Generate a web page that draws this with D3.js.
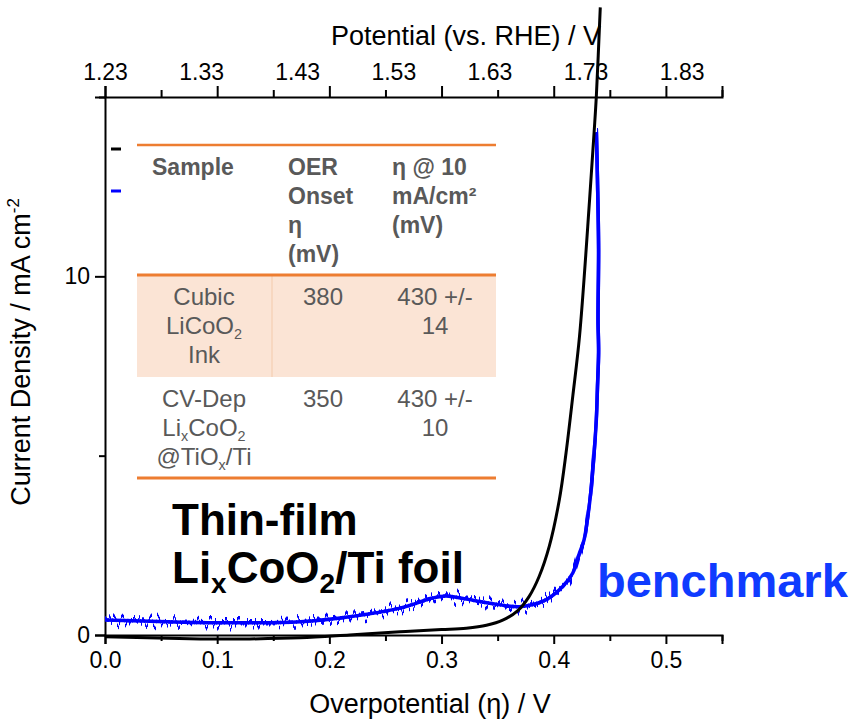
<!DOCTYPE html>
<html>
<head>
<meta charset="utf-8">
<script src="https://cdn.jsdelivr.net/npm/d3@7"></script>
<style>
  body { margin: 0; background: #fff; }
  svg { display: block; font-family: "Liberation Sans", Arial, sans-serif; }
  .tick-label { font-family: "Liberation Sans Narrow", "Arial Narrow", "Liberation Sans", sans-serif; font-size: 23px; fill: #000; }
  .axis-title { font-size: 27px; fill: #000; }
  .th { font-size: 23px; font-weight: bold; fill: #595959; }
  .td { font-size: 24px; fill: #595959; }
</style>
</head>
<body>
<div id="viz_container"></div>
<script>
// data
const blackEta = [0, 0.085, 0.129, 0.174, 0.218, 0.263, 0.300, 0.322, 0.340, 0.355, 0.368, 0.378, 0.387, 0.396, 0.405, 0.411, 0.417, 0.423, 0.432, 0.436, 0.438, 0.4415];
const blackJ   = [-0.05, -0.11, -0.11, -0.08, 0.0, 0.09, 0.15, 0.19, 0.27, 0.42, 0.68, 1.07, 1.63, 2.47, 3.77, 5.08, 6.66, 8.33, 12.15, 14.02, 15.03, 17.5];

const blueEta = [0, 0.055, 0.114, 0.174, 0.218, 0.263, 0.292, 0.304, 0.322, 0.352, 0.370, 0.393, 0.408, 0.417, 0.423, 0.427, 0.430, 0.433, 0.436, 0.438, 0.439, 0.440, 0.4395, 0.440, 0.439, 0.438];
const blueJ   = [0.42, 0.37, 0.34, 0.37, 0.51, 0.75, 1.03, 1.09, 1.00, 0.84, 0.79, 0.98, 1.35, 1.73, 2.29, 2.65, 3.21, 3.97, 5.08, 6.01, 6.93, 7.88, 8.80, 10.75, 12.7, 14.02];

const bottomTicks = [0, 0.1, 0.2, 0.3, 0.4, 0.5];
const minorTicks = [0.05, 0.15, 0.25, 0.35, 0.45, 0.55];
const topLabels = [1.23, 1.33, 1.43, 1.53, 1.63, 1.73, 1.83];
const leftTicks = [0, 10];
const leftMinor = [5, 15];

const tableHead = [["Sample"], ["OER", "Onset", "η", "(mV)"], ["η @ 10", "mA/cm²", "(mV)"]];
const rowCubic = [["Cubic", "LiCoO|2", "Ink"], ["380"], ["430 +/-", "14"]];
const rowCvDep = [["CV-Dep", "Li_xCoO|2", "@TiO_x/Ti"], ["350"], ["430 +/-", "10"]];

// set the dimensions and margins of the graph
const margin = {top: 97, right: 130, bottom: 84, left: 105};
const width = 852 - margin.left - margin.right;
const height = 719 - margin.top - margin.bottom;

const root = d3.select("#viz_container")
  .append("svg")
    .attr("width", 852)
    .attr("height", 719);

// noise filter for the benchmark trace (vertical jitter only)
const filter = root.append("defs").append("filter")
    .attr("id", "jitter")
    .attr("filterUnits", "userSpaceOnUse")
    .attr("x", 0).attr("y", 0).attr("width", 852).attr("height", 719);
filter.append("feTurbulence")
    .attr("type", "fractalNoise")
    .attr("baseFrequency", "0.25 0")
    .attr("numOctaves", 2)
    .attr("seed", 3)
    .attr("result", "noise");
filter.append("feColorMatrix")
    .attr("in", "noise")
    .attr("type", "matrix")
    .attr("values", "1 0 0 0 0  0 0 0 0 0.5  0 0 0 0 0  0 0 0 0 1")
    .attr("result", "map");
filter.append("feDisplacementMap")
    .attr("in", "SourceGraphic")
    .attr("in2", "map")
    .attr("scale", 30)
    .attr("xChannelSelector", "G")
    .attr("yChannelSelector", "R");

const svg = root.append("g")
    .attr("transform", `translate(${margin.left},${margin.top})`);

// scales
const xScale = d3.scaleLinear().domain([0, 0.55]).range([0, width]);
const yScale = d3.scaleLinear().domain([0, 15]).range([height, 0]);
// the top labels were placed with their own spacing
const topScale = d3.scaleLinear().domain([1.23, 1.83]).range([0, xScale(0.514)]);

// bottom axis
svg.append("g")
    .attr("transform", `translate(0,${height})`)
    .call(d3.axisBottom(xScale).tickValues(bottomTicks).tickSize(9).tickPadding(8).tickFormat(d3.format(".1f")));
svg.append("g")
    .attr("transform", `translate(0,${height})`)
    .call(d3.axisBottom(xScale).tickValues(minorTicks).tickSize(6).tickFormat(""))
    .call(g => g.select(".domain").remove());

// top axis: tick marks follow the bottom scale
svg.append("g")
    .call(d3.axisTop(xScale).tickValues(bottomTicks).tickSize(11).tickFormat(""));
svg.append("g")
    .call(d3.axisTop(xScale).tickValues(minorTicks).tickSize(7).tickFormat(""))
    .call(g => g.select(".domain").remove());
svg.append("g")
    .attr("transform", "translate(0,-17)")
    .call(d3.axisTop(topScale).tickValues(topLabels).tickSize(0).tickPadding(0).tickFormat(d3.format(".2f")))
    .call(g => g.select(".domain").remove());

// left axis
svg.append("g")
    .call(d3.axisLeft(yScale).tickValues(leftTicks).tickSize(10).tickPadding(5));
svg.append("g")
    .call(d3.axisLeft(yScale).tickValues(leftMinor).tickSize(6).tickFormat(""))
    .call(g => g.select(".domain").remove());

svg.selectAll(".domain, .tick line")
    .attr("stroke", "#000")
    .attr("stroke-width", 2);
svg.selectAll(".tick text")
    .attr("class", "tick-label")
    .attr("font-size", null)
    .attr("font-family", null);

// orange table behind the curves
const tx0 = 32, tx1 = 391;
const rowY = [48, 178, 280, 381];
svg.append("rect")
    .attr("x", tx0).attr("y", rowY[1])
    .attr("width", tx1 - tx0).attr("height", rowY[2] - rowY[1])
    .attr("fill", "#FBE4D5");
svg.append("line")
    .attr("x1", 167).attr("x2", 167).attr("y1", rowY[1]).attr("y2", rowY[2])
    .attr("stroke", "#F6D3B8").attr("stroke-width", 1.5);
[[rowY[0], 2.5], [rowY[1], 3], [rowY[3], 3]].forEach(([yy, w]) => {
  svg.append("line")
      .attr("x1", tx0).attr("x2", tx1).attr("y1", yy).attr("y2", yy)
      .attr("stroke", "#ED7D31").attr("stroke-width", w);
});

// writes one cell; "_x" makes a subscript x, "|2" a subscript 2
function cell(lines, x, y0, cls, anchor) {
  lines.forEach((s, i) => {
    const t = svg.append("text")
        .attr("class", cls)
        .attr("x", x)
        .attr("y", y0 + i * 29)
        .attr("text-anchor", anchor);
    let shift = 0;
    s.split(/(_x|\|2)/).filter(p => p).forEach(part => {
      if (part === "_x" || part === "|2") {
        t.append("tspan").attr("font-size", "0.6em").attr("dy", 5 - shift).text(part.slice(1));
        shift = 5;
      } else {
        t.append("tspan").attr("dy", -shift).text(part);
        shift = 0;
      }
    });
  });
}
cell(tableHead[0], 47, 78, "th", "start");
cell(tableHead[1], 183, 78, "th", "start");
cell(tableHead[2], 287, 78, "th", "start");
cell(rowCubic[0], 99, 208, "td", "middle");
cell(rowCubic[1], 218, 208, "td", "middle");
cell(rowCubic[2], 330, 208, "td", "middle");
cell(rowCvDep[0], 99, 310, "td", "middle");
cell(rowCvDep[1], 218, 310, "td", "middle");
cell(rowCvDep[2], 330, 310, "td", "middle");

// remains of the hidden legend
svg.append("line")
    .attr("x1", 6).attr("x2", 16).attr("y1", 52).attr("y2", 52)
    .attr("stroke", "#000").attr("stroke-width", 3);
svg.append("line")
    .attr("x1", 6).attr("x2", 16).attr("y1", 94).attr("y2", 94)
    .attr("stroke", "#0000FF").attr("stroke-width", 3);

// curves
const lineY = d3.line()
    .x(d => xScale(d[0]))
    .y(d => yScale(d[1]))
    .curve(d3.curveCatmullRom.alpha(0.5));

const blueData = blueEta.map((e, i) => [e, blueJ[i]]);
// solid core plus a jittered copy for the noisy edges
svg.append("path")
    .datum(blueData)
    .attr("d", lineY)
    .attr("fill", "none")
    .attr("stroke", "#0000FF")
    .attr("stroke-width", 3.5);
svg.append("path")
    .datum(blueData)
    .attr("d", lineY)
    .attr("fill", "none")
    .attr("stroke", "#0000FF")
    .attr("stroke-width", 3.5)
    .attr("filter", "url(#jitter)");

svg.append("path")
    .datum(blackEta.map((e, i) => [e, blackJ[i]]))
    .attr("d", lineY)
    .attr("fill", "none")
    .attr("stroke", "#000")
    .attr("stroke-width", 3);

// annotations
const note = svg.append("g")
    .attr("font-weight", "bold")
    .attr("font-size", 44);
note.append("text").attr("x", 67).attr("y", 438).text("Thin-film");
const n2 = note.append("text").attr("x", 67).attr("y", 486);
n2.append("tspan").text("Li");
n2.append("tspan").attr("font-size", 28).attr("dy", 10).text("x");
n2.append("tspan").attr("dy", -10).text("CoO");
n2.append("tspan").attr("font-size", 28).attr("dy", 10).text("2");
n2.append("tspan").attr("dy", -10).text("/Ti foil");

svg.append("text")
    .attr("x", 492).attr("y", 500)
    .attr("font-weight", "bold")
    .attr("font-size", 47)
    .attr("fill", "#0F3BFF")
    .text("benchmark");

// axis titles
svg.append("text")
    .attr("class", "axis-title")
    .attr("x", 361).attr("y", -52)
    .attr("text-anchor", "middle")
    .text("Potential (vs. RHE) / V");

svg.append("text")
    .attr("class", "axis-title")
    .attr("x", 325).attr("y", height + 78)
    .attr("font-size", 28)
    .attr("text-anchor", "middle")
    .text("Overpotential (η) / V");

const yl = svg.append("text")
    .attr("class", "axis-title")
    .attr("transform", `translate(-75,${255}) rotate(-90)`)
    .attr("text-anchor", "middle");
yl.append("tspan").text("Current Density / mA cm");
yl.append("tspan").attr("font-size", 17).attr("dy", -11).text("-2");
</script>
</body>
</html>
